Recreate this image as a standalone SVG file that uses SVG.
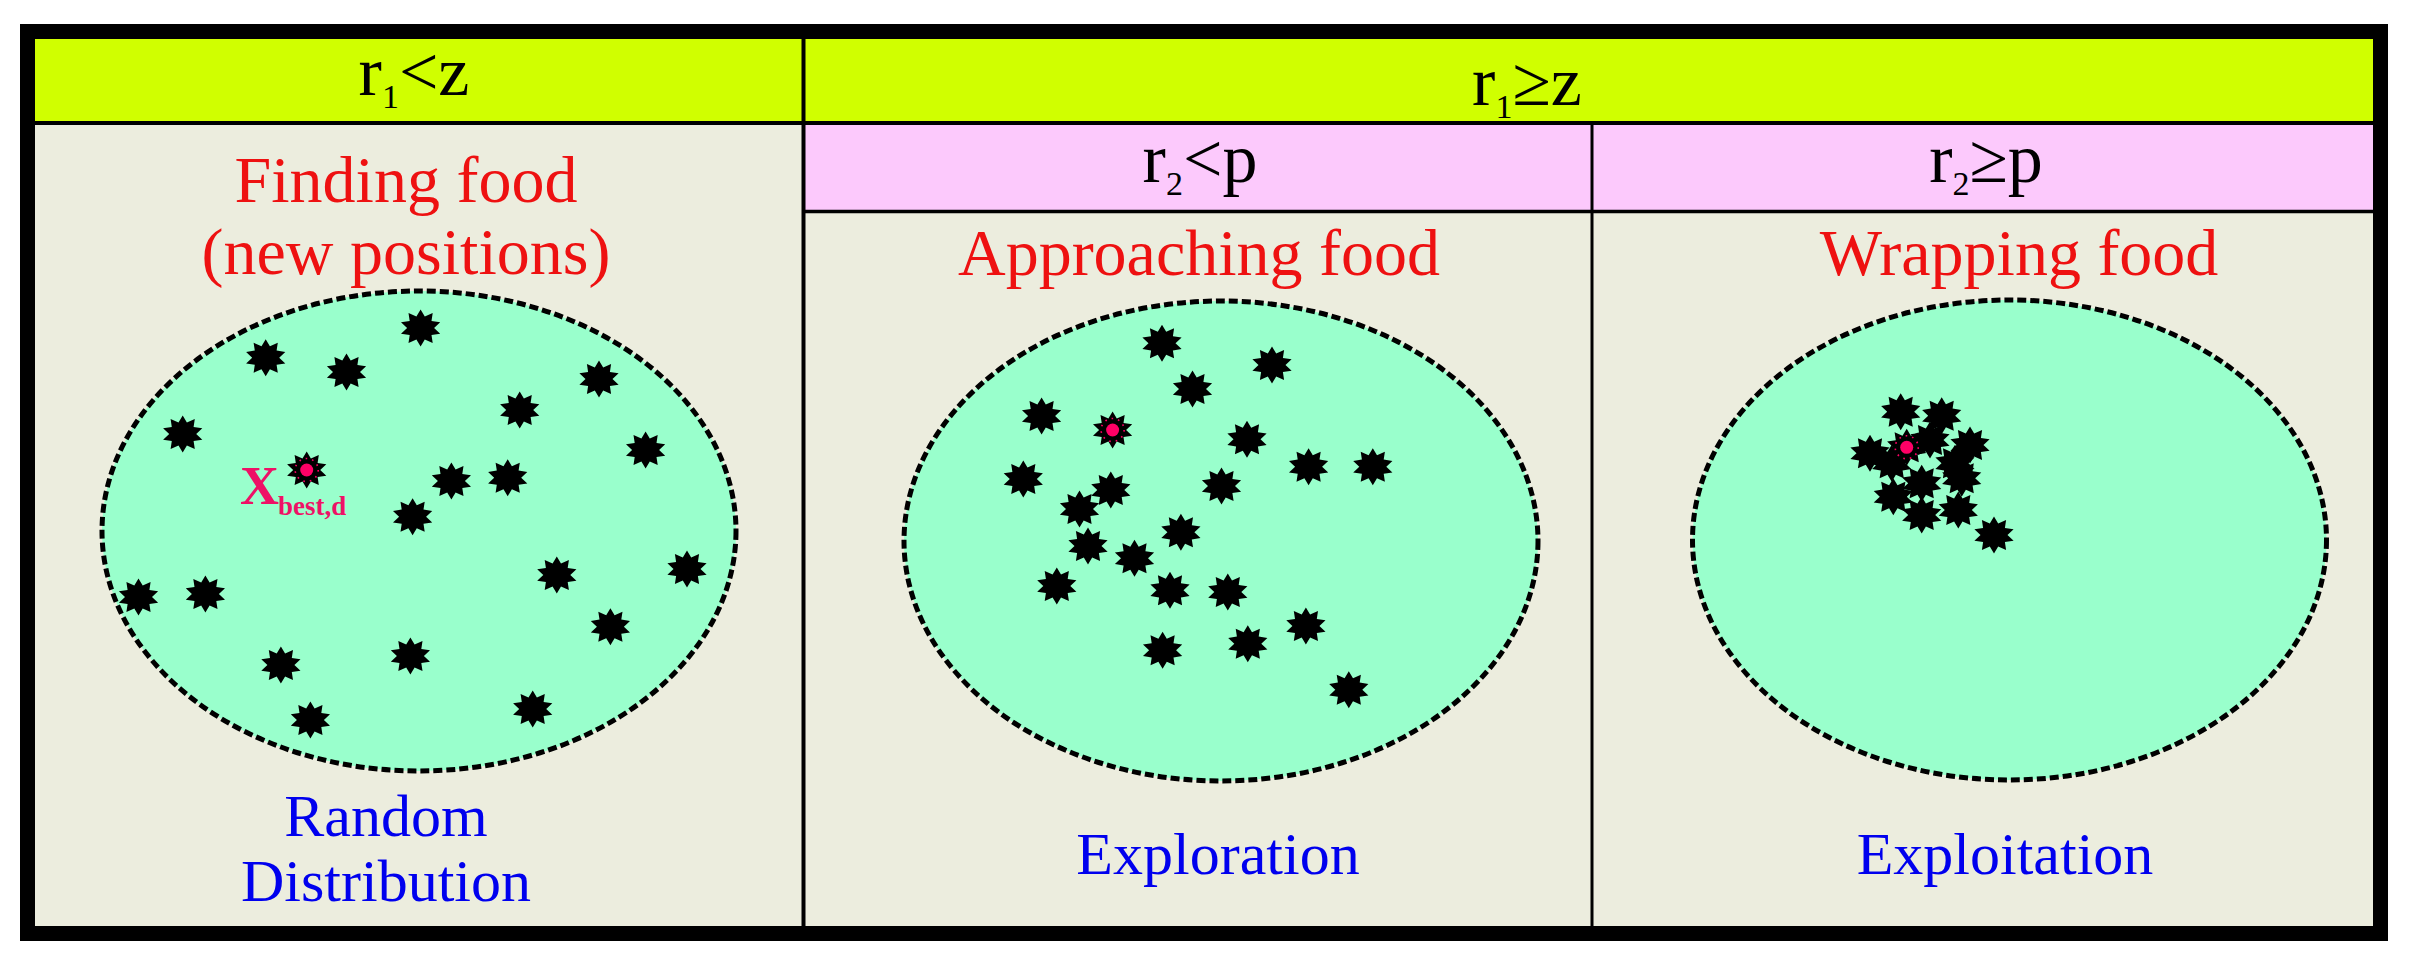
<svg xmlns="http://www.w3.org/2000/svg" xmlns:xlink="http://www.w3.org/1999/xlink" width="2416" height="963" viewBox="0 0 2416 963">
<style>
  text { font-family: "Liberation Serif", "DejaVu Serif", serif; }
  .hdr { font-size: 70px; fill: #000; text-anchor: middle; }
  .sub { font-size: 34px; }
  .red { font-size: 66px; fill: #ee1111; text-anchor: middle; }
  .blue { font-size: 60px; fill: #0000ee; text-anchor: middle; }
  .green { fill: #d0ff00; }
  .pink { fill: #fcc9fc; }
  .panel { fill: #ecedde; }
  .ell { fill: #99ffcc; stroke: #000; stroke-width: 5; stroke-dasharray: 9 4; }
  .line { stroke: #000; }
  .star { fill: #000; }
  .dot { fill: #ff0066; }
  .ring { fill: none; stroke: #ff0066; stroke-width: 1.6; stroke-dasharray: 1.6 5; }
  .xb { font-weight: bold; fill: #ee1166; }
</style>
<defs>
  <path id="star" d="M0,-18.5 L4.2,-11.5 L12.1,-15 L10.9,-7.1 L19.6,-5.7 L13.5,0 L19.6,5.7 L10.9,7.1 L12.1,15 L4.2,11.5 L0,18.5 L-4.2,11.5 L-12.1,15 L-10.9,7.1 L-19.6,5.7 L-13.5,0 L-19.6,-5.7 L-10.9,-7.1 L-12.1,-15 L-4.2,-11.5 Z"/>
</defs>
<rect x="0" y="0" width="2416" height="963" fill="#ffffff"/>

<g id="background">
  <rect class="green" x="35" y="39" width="2338" height="84"/>
  <rect class="panel" x="35" y="123" width="769" height="804"/>
  <rect class="pink" x="804" y="123" width="1569" height="88"/>
  <rect class="panel" x="804" y="211" width="1569" height="716"/>
</g>

<g id="header-r1-lt-z">
  <text class="hdr" x="414" y="95">r<tspan class="sub" dy="13">1</tspan><tspan dy="-13">&lt;z</tspan></text>
</g>
<g id="header-r1-ge-z">
  <text class="hdr" x="1527" y="105">r<tspan class="sub" dy="13">1</tspan><tspan dy="-13">≥z</tspan></text>
</g>
<g id="header-r2-lt-p">
  <text class="hdr" x="1200" y="182">r<tspan class="sub" dy="13">2</tspan><tspan dy="-13">&lt;p</tspan></text>
</g>
<g id="header-r2-ge-p">
  <text class="hdr" x="1986" y="182">r<tspan class="sub" dy="13">2</tspan><tspan dy="-13">≥p</tspan></text>
</g>

<g id="grid-lines">
  <line class="line" x1="35" y1="123" x2="2373" y2="123" stroke-width="4"/>
  <line class="line" x1="804" y1="211.5" x2="2373" y2="211.5" stroke-width="3.5"/>
  <line class="line" x1="803.5" y1="39" x2="803.5" y2="927" stroke-width="4"/>
  <line class="line" x1="1592" y1="123" x2="1592" y2="927" stroke-width="3"/>
</g>

<g id="panel-finding-food">
  <text class="red" x="406" y="202">Finding food</text>
  <text class="red" x="406" y="274">(new positions)</text>
  <ellipse class="ell" cx="419" cy="531" rx="317" ry="240"/>
  <g class="star">
    <use xlink:href="#star" x="420.6" y="328"/>
    <use xlink:href="#star" x="265.7" y="357.7"/>
    <use xlink:href="#star" x="346.5" y="372"/>
    <use xlink:href="#star" x="599" y="379"/>
    <use xlink:href="#star" x="519.7" y="410"/>
    <use xlink:href="#star" x="182.7" y="434"/>
    <use xlink:href="#star" x="645.6" y="450"/>
    <use xlink:href="#star" x="306.7" y="470"/>
    <use xlink:href="#star" x="451.4" y="481"/>
    <use xlink:href="#star" x="507.7" y="477.7"/>
    <use xlink:href="#star" x="412.6" y="516.7"/>
    <use xlink:href="#star" x="556.8" y="575"/>
    <use xlink:href="#star" x="687" y="569"/>
    <use xlink:href="#star" x="138.5" y="597"/>
    <use xlink:href="#star" x="205.4" y="594"/>
    <use xlink:href="#star" x="610.4" y="626.7"/>
    <use xlink:href="#star" x="280.9" y="665"/>
    <use xlink:href="#star" x="410.4" y="656"/>
    <use xlink:href="#star" x="532.7" y="709"/>
    <use xlink:href="#star" x="310.4" y="720"/>
  </g>
  <circle class="ring" cx="306.7" cy="470" r="11.5"/>
  <circle class="dot" cx="306.7" cy="470" r="6.5"/>
  <text class="xb" x="240" y="504" font-size="54">X</text>
  <text class="xb" x="278" y="515" font-size="27">best,d</text>
  <text class="blue" x="386" y="836">Random</text>
  <text class="blue" x="386" y="901">Distribution</text>
</g>

<g id="panel-approaching-food">
  <text class="red" x="1199" y="275">Approaching food</text>
  <ellipse class="ell" cx="1221" cy="541" rx="317" ry="240"/>
  <g class="star">
    <use xlink:href="#star" x="1162" y="343.3"/>
    <use xlink:href="#star" x="1272" y="365"/>
    <use xlink:href="#star" x="1192.5" y="389"/>
    <use xlink:href="#star" x="1041.6" y="416"/>
    <use xlink:href="#star" x="1112.6" y="430"/>
    <use xlink:href="#star" x="1247" y="439.3"/>
    <use xlink:href="#star" x="1308.6" y="466.7"/>
    <use xlink:href="#star" x="1372.8" y="466.7"/>
    <use xlink:href="#star" x="1023.3" y="479"/>
    <use xlink:href="#star" x="1110.8" y="490"/>
    <use xlink:href="#star" x="1221.5" y="486"/>
    <use xlink:href="#star" x="1079.5" y="509"/>
    <use xlink:href="#star" x="1180.9" y="532.3"/>
    <use xlink:href="#star" x="1088" y="546"/>
    <use xlink:href="#star" x="1134.5" y="558.3"/>
    <use xlink:href="#star" x="1056.8" y="586"/>
    <use xlink:href="#star" x="1170" y="590.3"/>
    <use xlink:href="#star" x="1227.8" y="592"/>
    <use xlink:href="#star" x="1305.9" y="626"/>
    <use xlink:href="#star" x="1162.6" y="650.3"/>
    <use xlink:href="#star" x="1247.8" y="643.7"/>
    <use xlink:href="#star" x="1348.8" y="689.7"/>
  </g>
  <circle class="ring" cx="1112.6" cy="430" r="11.5"/>
  <circle class="dot" cx="1112.6" cy="430" r="6.5"/>
  <text class="blue" x="1218" y="874">Exploration</text>
</g>

<g id="panel-wrapping-food">
  <text class="red" x="2019" y="275">Wrapping food</text>
  <ellipse class="ell" cx="2009.5" cy="540" rx="317" ry="240"/>
  <g class="star">
    <use xlink:href="#star" x="1900.7" y="411.7"/>
    <use xlink:href="#star" x="1941.7" y="415.7"/>
    <use xlink:href="#star" x="1930" y="440"/>
    <use xlink:href="#star" x="1870" y="453.3"/>
    <use xlink:href="#star" x="1970" y="445"/>
    <use xlink:href="#star" x="1891.7" y="463.3"/>
    <use xlink:href="#star" x="1955" y="463.3"/>
    <use xlink:href="#star" x="1961.7" y="478.3"/>
    <use xlink:href="#star" x="1921.7" y="483.3"/>
    <use xlink:href="#star" x="1893.3" y="496.7"/>
    <use xlink:href="#star" x="1921.7" y="515"/>
    <use xlink:href="#star" x="1958.3" y="510"/>
    <use xlink:href="#star" x="1994" y="535"/>
    <use xlink:href="#star" x="1906.7" y="447.3"/>
  </g>
  <circle class="ring" cx="1906.7" cy="447.3" r="11.5"/>
  <circle class="dot" cx="1906.7" cy="447.3" r="6.5"/>
  <text class="blue" x="2005" y="874">Exploitation</text>
</g>

<g id="connectors"></g>

<g id="frame">
  <rect x="27.5" y="31.5" width="2353" height="902" fill="none" stroke="#000" stroke-width="15"/>
</g>
</svg>
